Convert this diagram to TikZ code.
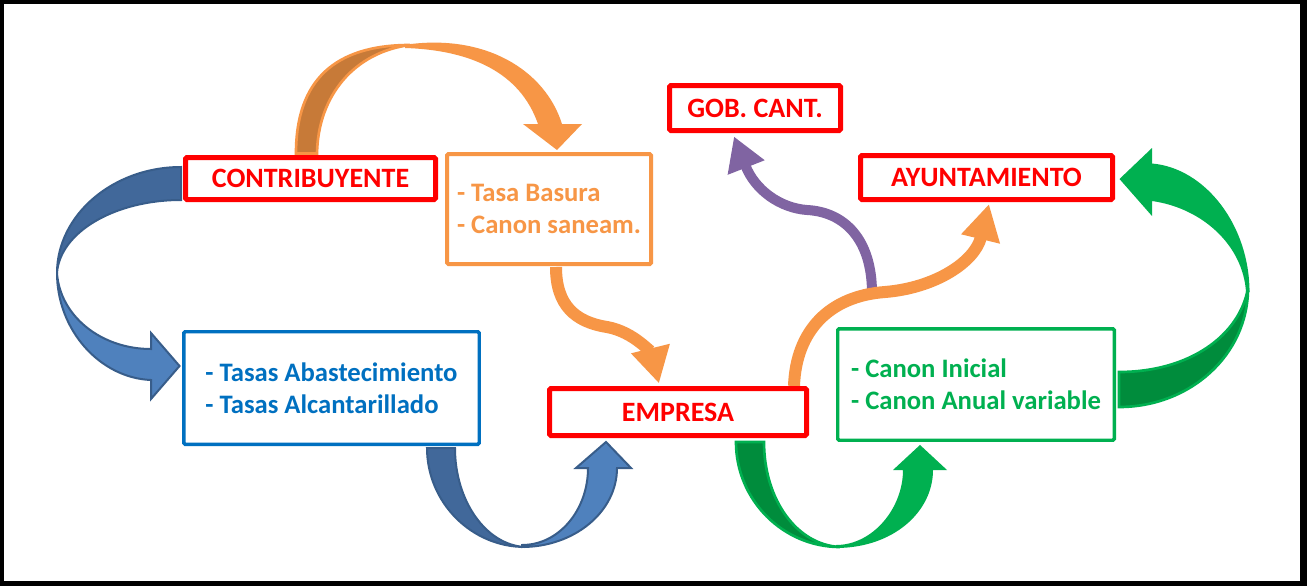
\documentclass[tikz,border=0pt]{standalone}
\usepackage{fontspec}
\setmainfont{Carlito}
\usetikzlibrary{arrows.meta,calc,backgrounds}
\definecolor{myred}{RGB}{255,0,0}
\definecolor{myorange}{RGB}{247,150,70}
\definecolor{darkorange}{RGB}{199,122,56}
\definecolor{myblue}{RGB}{0,112,192}
\definecolor{arrowblue}{RGB}{79,129,189}
\definecolor{darkblue}{RGB}{65,104,154}
\definecolor{lineblue}{RGB}{56,93,138}
\definecolor{mygreen}{RGB}{0,176,80}
\definecolor{darkgreen}{RGB}{0,140,60}
\definecolor{mypurple}{RGB}{128,100,162}

\tikzset{
  box/.style={rectangle, rounded corners=1pt, inner sep=0pt, fill=white, align=left,
    font=\bfseries\fontsize{20}{24}\selectfont},
  redbox/.style={box, draw=myred, text=myred, line width=3.75pt, align=center,
    font=\bfseries\fontsize{21}{24}\selectfont},
  orangebox/.style={box, draw=myorange, text=myorange, line width=3pt},
  bluebox/.style={box, draw=myblue, text=myblue, line width=2.6pt},
  greenbox/.style={box, draw=mygreen, text=mygreen, line width=2.6pt},
  thinarrow/.style={line width=9pt, -{Triangle[length=27pt,width=28pt]}},
}

\begin{document}
\begin{tikzpicture}[x=0.75pt,y=-0.75pt]

% Boxes
\node[redbox, minimum width=187.5pt, minimum height=31.5pt] (contrib) at (310.5,178.5) {CONTRIBUYENTE};
\node[orangebox, minimum width=153pt, minimum height=82.5pt] (basura) at (549,209) {- Tasa Basura\\- Canon saneam.};
\node[bluebox, minimum width=221.6pt, minimum height=84.4pt] (tasas) at (331.5,388) {- Tasas Abastecimiento\\- Tasas Alcantarillado};
\node[redbox, minimum width=192.75pt, minimum height=35.25pt] (empresa) at (678,412) {EMPRESA};
\node[redbox, minimum width=128.25pt, minimum height=33.75pt] (gob) at (755,108) {GOB. CANT.};
\node[redbox, minimum width=189pt, minimum height=33pt] (ayunt) at (986.5,177.5) {AYUNTAMIENTO};
\node[greenbox, minimum width=207.4pt, minimum height=83.6pt] (canon) at (976,384.5) {- Canon Inicial\\- Canon Anual variable};

\begin{scope}[on background layer]
% Frame
\fill[black] (0,0) rectangle (1307,586);
\fill[white] (4,4) rectangle (1300,581);

% Contribuyente -> tasas (blue)
\coordinate (bl1) at ($(contrib.west)+(-2,-11.5)$);
\coordinate (bl2) at ($(contrib.west)+(-2,21.5)$);
\coordinate (bl3) at ($(tasas.west)+(-2.5,-22)$);
\filldraw[fill=darkblue, draw=lineblue, line width=1.5pt] (bl1) .. controls (113,167) and (57,215) .. (57,273)
  .. controls (60,232) and (115,200) .. (bl2) -- cycle;
\filldraw[fill=arrowblue, draw=lineblue, line width=1.5pt] (57,273) .. controls (57,330) and (100,378) .. (151,380)
  -- (151,399) -- (bl3) -- (151,333) -- (151,349) .. controls (101,349) and (60,316) .. (57,273) -- cycle;

% Contribuyente -> basura (orange)
\coordinate (ot1) at ($(contrib.north)+(-14.5,-1.5)$);
\coordinate (ot2) at ($(basura.north)+(8,-2)$);
\filldraw[fill=darkorange, draw=myorange, line width=2pt] (ot1) .. controls (296,80) and (335,45) .. (410,45)
  .. controls (355,52) and (318,95) .. ($(ot1)+(21,0)$) -- cycle;
\fill[myorange] (405,44.8) .. controls (485,33) and (545,70) .. (562,124) -- (582,124) -- (ot2) -- (523,124)
  -- (538,124) .. controls (520,72) and (470,50) .. (405,48) -- cycle;

% Tasas -> empresa (blue)
\coordinate (bb1) at ($(tasas.south)+(95.5,2)$);
\coordinate (bb2) at ($(empresa.south)+(-72,4)$);
\filldraw[fill=darkblue, draw=lineblue, line width=1.5pt] (bb1) .. controls (427,502) and (471,547) .. (525,547)
  .. controls (486,545) and (455,501) .. ($(bb1)+(28,0)$) -- cycle;
\filldraw[fill=arrowblue, draw=lineblue, line width=1.5pt] (522,547) .. controls (574,547) and (617,512) .. (617,468)
  -- (631,468) -- (bb2) -- (576,468) -- (588,468) .. controls (588,510) and (559,545) .. (522,545) -- cycle;

% Empresa -> canon (green)
\coordinate (gb1) at ($(empresa.south)+(58,4)$);
\coordinate (gb2) at ($(canon.south)+(-56,3)$);
\filldraw[fill=darkgreen, draw=mygreen, line width=2pt] (gb1) .. controls (736,500) and (783,547) .. (840,547)
  .. controls (797,545) and (764,500) .. ($(gb1)+(28,0)$) -- cycle;
\fill[mygreen] (836,548) .. controls (893,548) and (933,512) .. (933,470) -- (947,470) -- (gb2) -- (893,470)
  -- (903,470) .. controls (903,508) and (873,545) .. (836,545) -- cycle;

% Canon -> ayuntamiento (green)
\coordinate (gr1) at ($(canon.east)+(3,22.5)$);
\coordinate (gr2) at ($(canon.east)+(3,-12.5)$);
\coordinate (gr3) at ($(ayunt.east)+(4.5,1.5)$);
\filldraw[fill=darkgreen, draw=mygreen, line width=2pt] (1248,288) .. controls (1248,355) and (1190,407) .. (gr1)
  -- (gr2) .. controls (1190,372) and (1240,335) .. (1248,288) -- cycle;
\fill[mygreen] (1249.5,292) .. controls (1249.5,225) and (1205,168) .. (1152,163.5) -- (1152,148) -- (gr3)
  -- (1152,216) -- (1152,201) .. controls (1202,208) and (1243,245) .. (1246,292) -- cycle;

% Fork -> gob. cant. (purple)
\coordinate (fork) at (872,293);
\draw[thinarrow, mypurple, line width=7.5pt, -{Triangle[length=25pt,width=28pt]}] (fork)
  .. controls (872,240) and (845,212) .. (807,210) .. controls (780,208) and (755,190) .. ($(gob.south)+(-21,3.5)$);

% Basura -> empresa, empresa -> ayuntamiento (orange)
\draw[thinarrow, myorange] ($(basura.south)+(7,1)$) .. controls (556,305) and (575,322) .. (607,327)
  .. controls (635,332) and (652,355) .. ($(empresa.north)+(-19,-2.5)$);
\draw[thinarrow, myorange] ($(empresa.north)+(116,0)$) .. controls (796,330) and (830,296) .. (885,292)
  .. controls (935,288) and (975,262) .. ($(ayunt.south)+(2.5,2)$);
\end{scope}

\end{tikzpicture}
\end{document}
